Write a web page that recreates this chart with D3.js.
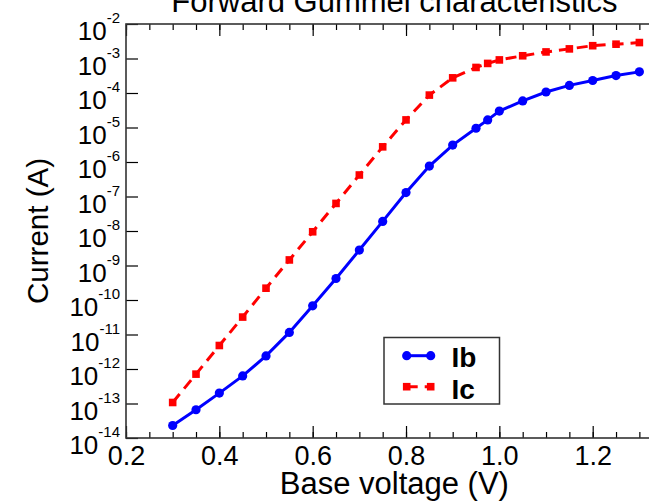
<!DOCTYPE html>
<html>
<head>
<meta charset="utf-8">
<script src="https://cdn.jsdelivr.net/npm/d3@7"></script>
<style>
  body { margin: 0; background: #fff; }
  svg { display: block; font-family: "Liberation Sans", Arial, sans-serif; }
</style>
</head>
<body>
<div id="chart"></div>
<script>
// base voltage (V)
var vbe = [0.3, 0.35, 0.4, 0.45, 0.5, 0.55, 0.6, 0.65, 0.7, 0.75, 0.8, 0.85, 0.9,
           0.95, 0.975, 1.0, 1.05, 1.1, 1.15, 1.2, 1.25, 1.3];
// base current (A)
var ib = [2.3e-14, 6.6e-14, 2.0e-13, 6.3e-13, 2.4e-12, 1.15e-11, 6.8e-11, 4.2e-10, 2.8e-9,
          1.9e-8, 1.3e-7, 7.6e-7, 3.1e-6, 9.5e-6, 1.66e-5, 3.0e-5, 5.9e-5, 1.07e-4,
          1.66e-4, 2.3e-4, 3.2e-4, 4.1e-4];
// collector current (A)
var ic = [1.07e-13, 7.1e-13, 4.8e-12, 3.2e-11, 2.2e-10, 1.45e-9, 9.5e-9, 6.3e-8, 4.2e-7,
          2.75e-6, 1.66e-5, 8.7e-5, 2.75e-4, 5.5e-4, 7.2e-4, 9.1e-4, 1.2e-3, 1.55e-3,
          1.9e-3, 2.35e-3, 2.6e-3, 2.9e-3];
var xTicks = [0.2, 0.4, 0.6, 0.8, 1.0, 1.2];
var yExps = [-14, -13, -12, -11, -10, -9, -8, -7, -6, -5, -4, -3, -2];

var width = 649, height = 502;
var margin = {top: 24, left: 126, bottom: 64};

var svg = d3.select("#chart").append("svg")
    .attr("width", width)
    .attr("height", height);

var x = d3.scaleLinear()
    .domain([0.2, 1.35])
    .range([margin.left, 662.7]);

var y = d3.scaleLog()
    .domain([1e-14, 1e-2])
    .range([height - margin.bottom, margin.top]);

var x0 = x.range()[0], x1 = x.range()[1];
var y0 = y.range()[0], y1 = y.range()[1];

// minor ticks every 0.05
var minor = d3.range(0.2, 1.36, 0.05).map(function (d) { return +d.toFixed(2); });

function styleAxis(g) {
    g.select(".domain").remove();
    g.selectAll(".tick line").attr("stroke", "#000").attr("stroke-width", 1.2);
}

// bottom
svg.append("g")
    .attr("transform", "translate(0," + y0 + ")")
    .call(d3.axisBottom(x).tickValues(minor).tickSize(-6).tickFormat(""))
    .call(styleAxis);
var gx = svg.append("g")
    .attr("transform", "translate(0," + y0 + ")")
    .call(d3.axisBottom(x).tickValues(xTicks).tickSize(-12).tickPadding(8)
        .tickFormat(d3.format(".1f")))
    .call(styleAxis);
gx.selectAll(".tick text")
    .attr("font-size", 27)
    .attr("fill", "#000")
    .attr("dy", null)
    .attr("y", 27);

// top
svg.append("g")
    .attr("transform", "translate(0," + y1 + ")")
    .call(d3.axisTop(x).tickValues(minor).tickSize(-6).tickFormat(""))
    .call(styleAxis);
svg.append("g")
    .attr("transform", "translate(0," + y1 + ")")
    .call(d3.axisTop(x).tickValues(xTicks).tickSize(-12).tickFormat(""))
    .call(styleAxis);

// left
var gy = svg.append("g")
    .attr("transform", "translate(" + x0 + ",0)")
    .call(d3.axisLeft(y).tickValues(yExps.map(function (e) { return Math.pow(10, e); }))
        .tickSize(-12).tickFormat(""))
    .call(styleAxis);

gy.selectAll(".tick").each(function (d) {
    var e = Math.round(Math.log10(d));
    var t = d3.select(this).append("text")
        .attr("x", -6)
        .attr("y", 15.5)
        .attr("text-anchor", "end")
        .attr("fill", "#000")
        .attr("font-size", 26)
        .text("10");
    t.append("tspan")
        .attr("dy", -17)
        .attr("font-size", 15)
        .text(e);
});

// frame
svg.append("rect")
    .attr("x", x0)
    .attr("y", y1)
    .attr("width", x1 - x0)
    .attr("height", y0 - y1)
    .attr("fill", "none")
    .attr("stroke", "#333")
    .attr("stroke-width", 1.6);

// series
var line = d3.line()
    .x(function (d) { return x(d[0]); })
    .y(function (d) { return y(d[1]); });

var ibData = d3.zip(vbe, ib);
var icData = d3.zip(vbe, ic);

svg.append("path")
    .datum(icData)
    .attr("d", line)
    .attr("fill", "none")
    .attr("stroke", "#ff0000")
    .attr("stroke-width", 3)
    .attr("stroke-dasharray", "11,7");

svg.append("g").selectAll("rect")
    .data(icData)
    .enter().append("rect")
    .attr("x", function (d) { return x(d[0]) - 3.8; })
    .attr("y", function (d) { return y(d[1]) - 3.8; })
    .attr("width", 7.6)
    .attr("height", 7.6)
    .attr("fill", "#ff0000");

svg.append("path")
    .datum(ibData)
    .attr("d", line)
    .attr("fill", "none")
    .attr("stroke", "#0000ff")
    .attr("stroke-width", 3);

svg.append("g").selectAll("circle")
    .data(ibData)
    .enter().append("circle")
    .attr("cx", function (d) { return x(d[0]); })
    .attr("cy", function (d) { return y(d[1]); })
    .attr("r", 4.6)
    .attr("fill", "#0000ff");

// titles (top one is cut off by the frame edge, like the original)
svg.append("text")
    .attr("x", (x0 + x1) / 2)
    .attr("y", 11.5)
    .attr("text-anchor", "middle")
    .attr("font-size", 31)
    .text("Forward Gummel characteristics");

svg.append("text")
    .attr("x", (x0 + x1) / 2)
    .attr("y", 494)
    .attr("text-anchor", "middle")
    .attr("font-size", 31)
    .text("Base voltage (V)");

svg.append("text")
    .attr("transform", "translate(48," + (y0 + y1) / 2 + ") rotate(-90)")
    .attr("text-anchor", "middle")
    .attr("font-size", 29.5)
    .text("Current (A)");

// legend
var legend = svg.append("g");
legend.append("rect")
    .attr("x", 384)
    .attr("y", 337.5)
    .attr("width", 115.5)
    .attr("height", 66.5)
    .attr("fill", "#fff")
    .attr("stroke", "#333")
    .attr("stroke-width", 1.5);

legend.append("line")
    .attr("x1", 406.7).attr("x2", 430.7)
    .attr("y1", 355.7).attr("y2", 355.7)
    .attr("stroke", "#0000ff").attr("stroke-width", 3);
legend.selectAll("circle")
    .data([406.7, 430.7])
    .enter().append("circle")
    .attr("cx", function (d) { return d; })
    .attr("cy", 355.7)
    .attr("r", 4.6)
    .attr("fill", "#0000ff");

legend.append("line")
    .attr("x1", 406.7).attr("x2", 430.7)
    .attr("y1", 386.7).attr("y2", 386.7)
    .attr("stroke", "#ff0000").attr("stroke-width", 3)
    .attr("stroke-dasharray", "11,7");
legend.selectAll("rect.m")
    .data([406.7, 430.7])
    .enter().append("rect")
    .attr("class", "m")
    .attr("x", function (d) { return d - 3.8; })
    .attr("y", 386.7 - 3.8)
    .attr("width", 7.6)
    .attr("height", 7.6)
    .attr("fill", "#ff0000");

legend.selectAll("text")
    .data(["Ib", "Ic"])
    .enter().append("text")
    .attr("x", 451.5)
    .attr("y", function (d, i) { return 367 + i * 31.6; })
    .attr("font-size", 28)
    .attr("font-weight", "bold")
    .text(function (d) { return d; });
</script>
</body>
</html>
